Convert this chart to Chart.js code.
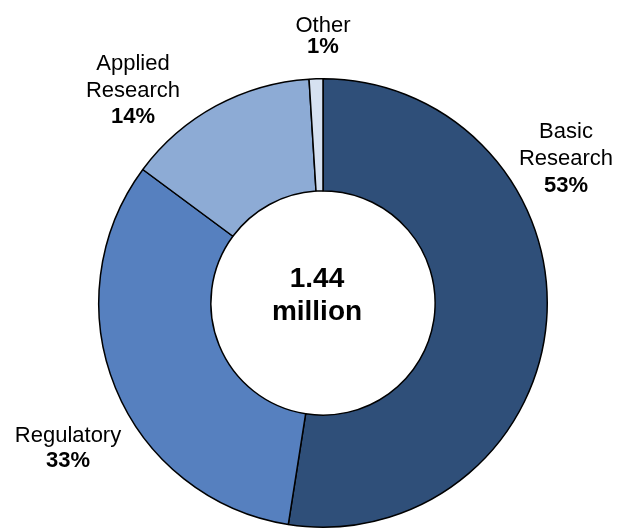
<!DOCTYPE html>
<html>
<head>
<meta charset="utf-8">
<script src="https://cdn.jsdelivr.net/npm/chart.js@4"></script>
<style>
  html, body { margin: 0; padding: 0; background: #fff; }
  #wrap { width: 620px; height: 530px; }
</style>
</head>
<body>
<div id="wrap"><canvas id="myChart" width="620" height="530"></canvas></div>
<script>
const categories = ['Basic Research', 'Regulatory', 'Applied Research', 'Other'];
const shares = [53, 33, 14, 1];
const sliceColors = ['#2f4f79', '#5680bf', '#8dabd5', '#d6e1f1'];
const centerLines = ['1.44', 'million'];

// label text blocks, anchored relative to the ring centre
const labelBlocks = [
  { lines: ['Basic', 'Research'], dx: 243, dy: -165, step: 27 },
  { lines: ['Regulatory'], dx: -255, dy: 139, step: 25 },
  { lines: ['Applied', 'Research'], dx: -190, dy: -233, step: 26.5 },
  { lines: ['Other'], dx: 0, dy: -271, step: 21 }
];

const labelPlugin = {
  id: 'labels',
  afterDatasetsDraw(chart) {
    const ctx = chart.ctx;
    const arc = chart.getDatasetMeta(0).data[0];
    const cx = arc.x, cy = arc.y;
    ctx.save();
    ctx.fillStyle = '#000';
    ctx.textAlign = 'center';
    ctx.textBaseline = 'alphabetic';
    labelBlocks.forEach((b, i) => {
      let y = cy + b.dy;
      ctx.font = '22px "Liberation Sans", Arial, sans-serif';
      b.lines.forEach(l => { ctx.fillText(l, cx + b.dx, y); y += b.step; });
      ctx.font = 'bold 22px "Liberation Sans", Arial, sans-serif';
      ctx.fillText(shares[i] + '%', cx + b.dx, y);
    });
    ctx.font = 'bold 28px "Liberation Sans", Arial, sans-serif';
    ctx.fillText(centerLines[0], cx - 6, cy - 16);
    ctx.fillText(centerLines[1], cx - 6, cy + 17);
    ctx.restore();
  }
};

const ctx = document.getElementById('myChart').getContext('2d');
new Chart(ctx, {
  type: 'doughnut',
  data: {
    labels: categories,
    datasets: [{
      data: shares,
      backgroundColor: sliceColors,
      borderColor: '#000',
      borderWidth: 1.5
    }]
  },
  options: {
    responsive: false,
    animation: false,
    cutout: '50%',
    rotation: 0,
    layout: { padding: { left: 98, right: 72, top: 78, bottom: 2 } },
    plugins: { legend: { display: false }, tooltip: { enabled: false } }
  },
  plugins: [labelPlugin]
});
</script>
</body>
</html>
